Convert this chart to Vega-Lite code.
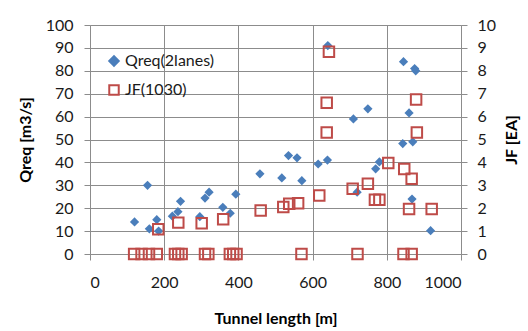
{
  "$schema": "https://vega.github.io/schema/vega-lite/v6.json",
  "width": 371,
  "height": 229,
  "autosize": {"type": "none"},
  "padding": {"left": 90, "top": 25, "right": 67, "bottom": 77},
  "background": "white",
  "config": {
    "view": {"stroke": null},
    "font": "Lato",
    "axis": {
      "labelFont": "Lato",
      "labelFontSize": 16,
      "labelColor": "#1a1a1a",
      "titleFont": "Lato",
      "titleFontSize": 16,
      "titleFontWeight": "bold",
      "titleColor": "#000000",
      "domainColor": "#8c8c8c",
      "tickColor": "#8c8c8c",
      "gridColor": "#8c8c8c",
      "gridWidth": 1,
      "tickSize": 6,
      "domainWidth": 1
    },
    "legend": {
      "labelFont": "Lato",
      "labelFontSize": 16,
      "labelColor": "#1a1a1a"
    }
  },
  "data": {
    "values": [
      {"s": "Qreq(2lanes)", "L": 120, "Q": 14},
      {"s": "Qreq(2lanes)", "L": 155, "Q": 30},
      {"s": "Qreq(2lanes)", "L": 160, "Q": 11},
      {"s": "Qreq(2lanes)", "L": 180, "Q": 15},
      {"s": "Qreq(2lanes)", "L": 185, "Q": 10},
      {"s": "Qreq(2lanes)", "L": 222, "Q": 16.5},
      {"s": "Qreq(2lanes)", "L": 237, "Q": 18.5},
      {"s": "Qreq(2lanes)", "L": 244, "Q": 23},
      {"s": "Qreq(2lanes)", "L": 296, "Q": 16.3},
      {"s": "Qreq(2lanes)", "L": 310, "Q": 24.4},
      {"s": "Qreq(2lanes)", "L": 321, "Q": 27},
      {"s": "Qreq(2lanes)", "L": 358, "Q": 20.4},
      {"s": "Qreq(2lanes)", "L": 378, "Q": 17.8},
      {"s": "Qreq(2lanes)", "L": 393, "Q": 26.1},
      {"s": "Qreq(2lanes)", "L": 458, "Q": 35},
      {"s": "Qreq(2lanes)", "L": 517, "Q": 33.2},
      {"s": "Qreq(2lanes)", "L": 535, "Q": 43},
      {"s": "Qreq(2lanes)", "L": 558, "Q": 42},
      {"s": "Qreq(2lanes)", "L": 571, "Q": 32},
      {"s": "Qreq(2lanes)", "L": 615, "Q": 39.3},
      {"s": "Qreq(2lanes)", "L": 640, "Q": 41},
      {"s": "Qreq(2lanes)", "L": 641, "Q": 91},
      {"s": "Qreq(2lanes)", "L": 710, "Q": 59},
      {"s": "Qreq(2lanes)", "L": 720, "Q": 27},
      {"s": "Qreq(2lanes)", "L": 749, "Q": 63.4},
      {"s": "Qreq(2lanes)", "L": 770, "Q": 37.2},
      {"s": "Qreq(2lanes)", "L": 780, "Q": 40.2},
      {"s": "Qreq(2lanes)", "L": 843, "Q": 48.2},
      {"s": "Qreq(2lanes)", "L": 845, "Q": 84},
      {"s": "Qreq(2lanes)", "L": 860, "Q": 61.6},
      {"s": "Qreq(2lanes)", "L": 868, "Q": 24},
      {"s": "Qreq(2lanes)", "L": 870, "Q": 49},
      {"s": "Qreq(2lanes)", "L": 875, "Q": 81},
      {"s": "Qreq(2lanes)", "L": 878, "Q": 80},
      {"s": "Qreq(2lanes)", "L": 918, "Q": 10.2},
      {"s": "JF(1030)", "L": 119, "JF": 0},
      {"s": "JF(1030)", "L": 139, "JF": 0},
      {"s": "JF(1030)", "L": 159, "JF": 0},
      {"s": "JF(1030)", "L": 180, "JF": 0},
      {"s": "JF(1030)", "L": 229, "JF": 0},
      {"s": "JF(1030)", "L": 238, "JF": 0},
      {"s": "JF(1030)", "L": 247, "JF": 0},
      {"s": "JF(1030)", "L": 310, "JF": 0},
      {"s": "JF(1030)", "L": 319, "JF": 0},
      {"s": "JF(1030)", "L": 377, "JF": 0},
      {"s": "JF(1030)", "L": 386, "JF": 0},
      {"s": "JF(1030)", "L": 395, "JF": 0},
      {"s": "JF(1030)", "L": 570, "JF": 0},
      {"s": "JF(1030)", "L": 721, "JF": 0},
      {"s": "JF(1030)", "L": 845, "JF": 0},
      {"s": "JF(1030)", "L": 867, "JF": 0},
      {"s": "JF(1030)", "L": 184, "JF": 1.08},
      {"s": "JF(1030)", "L": 238, "JF": 1.37},
      {"s": "JF(1030)", "L": 301, "JF": 1.34},
      {"s": "JF(1030)", "L": 359, "JF": 1.52},
      {"s": "JF(1030)", "L": 460, "JF": 1.9},
      {"s": "JF(1030)", "L": 521, "JF": 2.05},
      {"s": "JF(1030)", "L": 537, "JF": 2.19},
      {"s": "JF(1030)", "L": 561, "JF": 2.22},
      {"s": "JF(1030)", "L": 618, "JF": 2.55},
      {"s": "JF(1030)", "L": 644, "JF": 8.83},
      {"s": "JF(1030)", "L": 638, "JF": 6.6},
      {"s": "JF(1030)", "L": 638, "JF": 5.31},
      {"s": "JF(1030)", "L": 708, "JF": 2.85},
      {"s": "JF(1030)", "L": 749, "JF": 3.07},
      {"s": "JF(1030)", "L": 768, "JF": 2.37},
      {"s": "JF(1030)", "L": 780, "JF": 2.37},
      {"s": "JF(1030)", "L": 804, "JF": 3.97},
      {"s": "JF(1030)", "L": 847, "JF": 3.71},
      {"s": "JF(1030)", "L": 867, "JF": 3.29},
      {"s": "JF(1030)", "L": 860, "JF": 1.97},
      {"s": "JF(1030)", "L": 879, "JF": 6.75},
      {"s": "JF(1030)", "L": 881, "JF": 5.31},
      {"s": "JF(1030)", "L": 921, "JF": 1.97}
    ]
  },
  "layer": [
    {
      "transform": [{"filter": "datum.s === 'Qreq(2lanes)'"}],
      "mark": {"type": "point", "filled": true, "size": 85, "strokeWidth": 0, "opacity": 1},
      "encoding": {
        "x": {
          "field": "L", "type": "quantitative",
          "scale": {"domain": [0, 1000]},
          "axis": {"values": [0, 200, 400, 600, 800, 1000], "format": "d", "title": "Tunnel length [m]", "grid": true, "labelPadding": 14, "titlePadding": 20}
        },
        "y": {
          "field": "Q", "type": "quantitative",
          "scale": {"domain": [0, 100]},
          "axis": {"values": [0, 10, 20, 30, 40, 50, 60, 70, 80, 90, 100], "title": "Qreq [m3/s]", "grid": true, "labelPadding": 11, "titlePadding": 12}
        },
        "fill": {"field": "s", "type": "nominal", "scale": {"domain": ["Qreq(2lanes)", "JF(1030)"], "range": ["#4A7EBB", "transparent"]}, "legend": {"title": null, "orient": "none", "legendX": 16, "legendY": 28, "rowPadding": 11, "symbolStrokeWidth": 2, "symbolSize": 90, "labelOffset": 3}},
        "stroke": {"field": "s", "type": "nominal", "scale": {"domain": ["Qreq(2lanes)", "JF(1030)"], "range": ["#4A7EBB", "#BE4B48"]}, "legend": {"title": null, "orient": "none", "legendX": 16, "legendY": 28, "rowPadding": 11, "symbolStrokeWidth": 2, "symbolSize": 90, "labelOffset": 3}},
        "shape": {"field": "s", "type": "nominal", "scale": {"domain": ["Qreq(2lanes)", "JF(1030)"], "range": ["diamond", "square"]}, "legend": {"title": null, "orient": "none", "legendX": 16, "legendY": 28, "rowPadding": 11, "symbolStrokeWidth": 2, "symbolSize": 90, "labelOffset": 3}}
      }
    },
    {
      "transform": [{"filter": "datum.s === 'JF(1030)'"}],
      "mark": {"type": "point", "filled": false, "size": 110, "strokeWidth": 2, "opacity": 1},
      "encoding": {
        "x": {"field": "L", "type": "quantitative", "scale": {"domain": [0, 1000]}},
        "y": {
          "field": "JF", "type": "quantitative",
          "scale": {"domain": [0, 10]},
          "axis": {"orient": "right", "values": [0, 1, 2, 3, 4, 5, 6, 7, 8, 9, 10], "title": "JF [EA]", "grid": false, "labelPadding": 10, "titlePadding": 24, "titleAngle": 270}
        },
        "fill": {"field": "s", "type": "nominal"},
        "stroke": {"field": "s", "type": "nominal"},
        "shape": {"field": "s", "type": "nominal"}
      }
    }
  ],
  "resolve": {"scale": {"y": "independent"}}
}
